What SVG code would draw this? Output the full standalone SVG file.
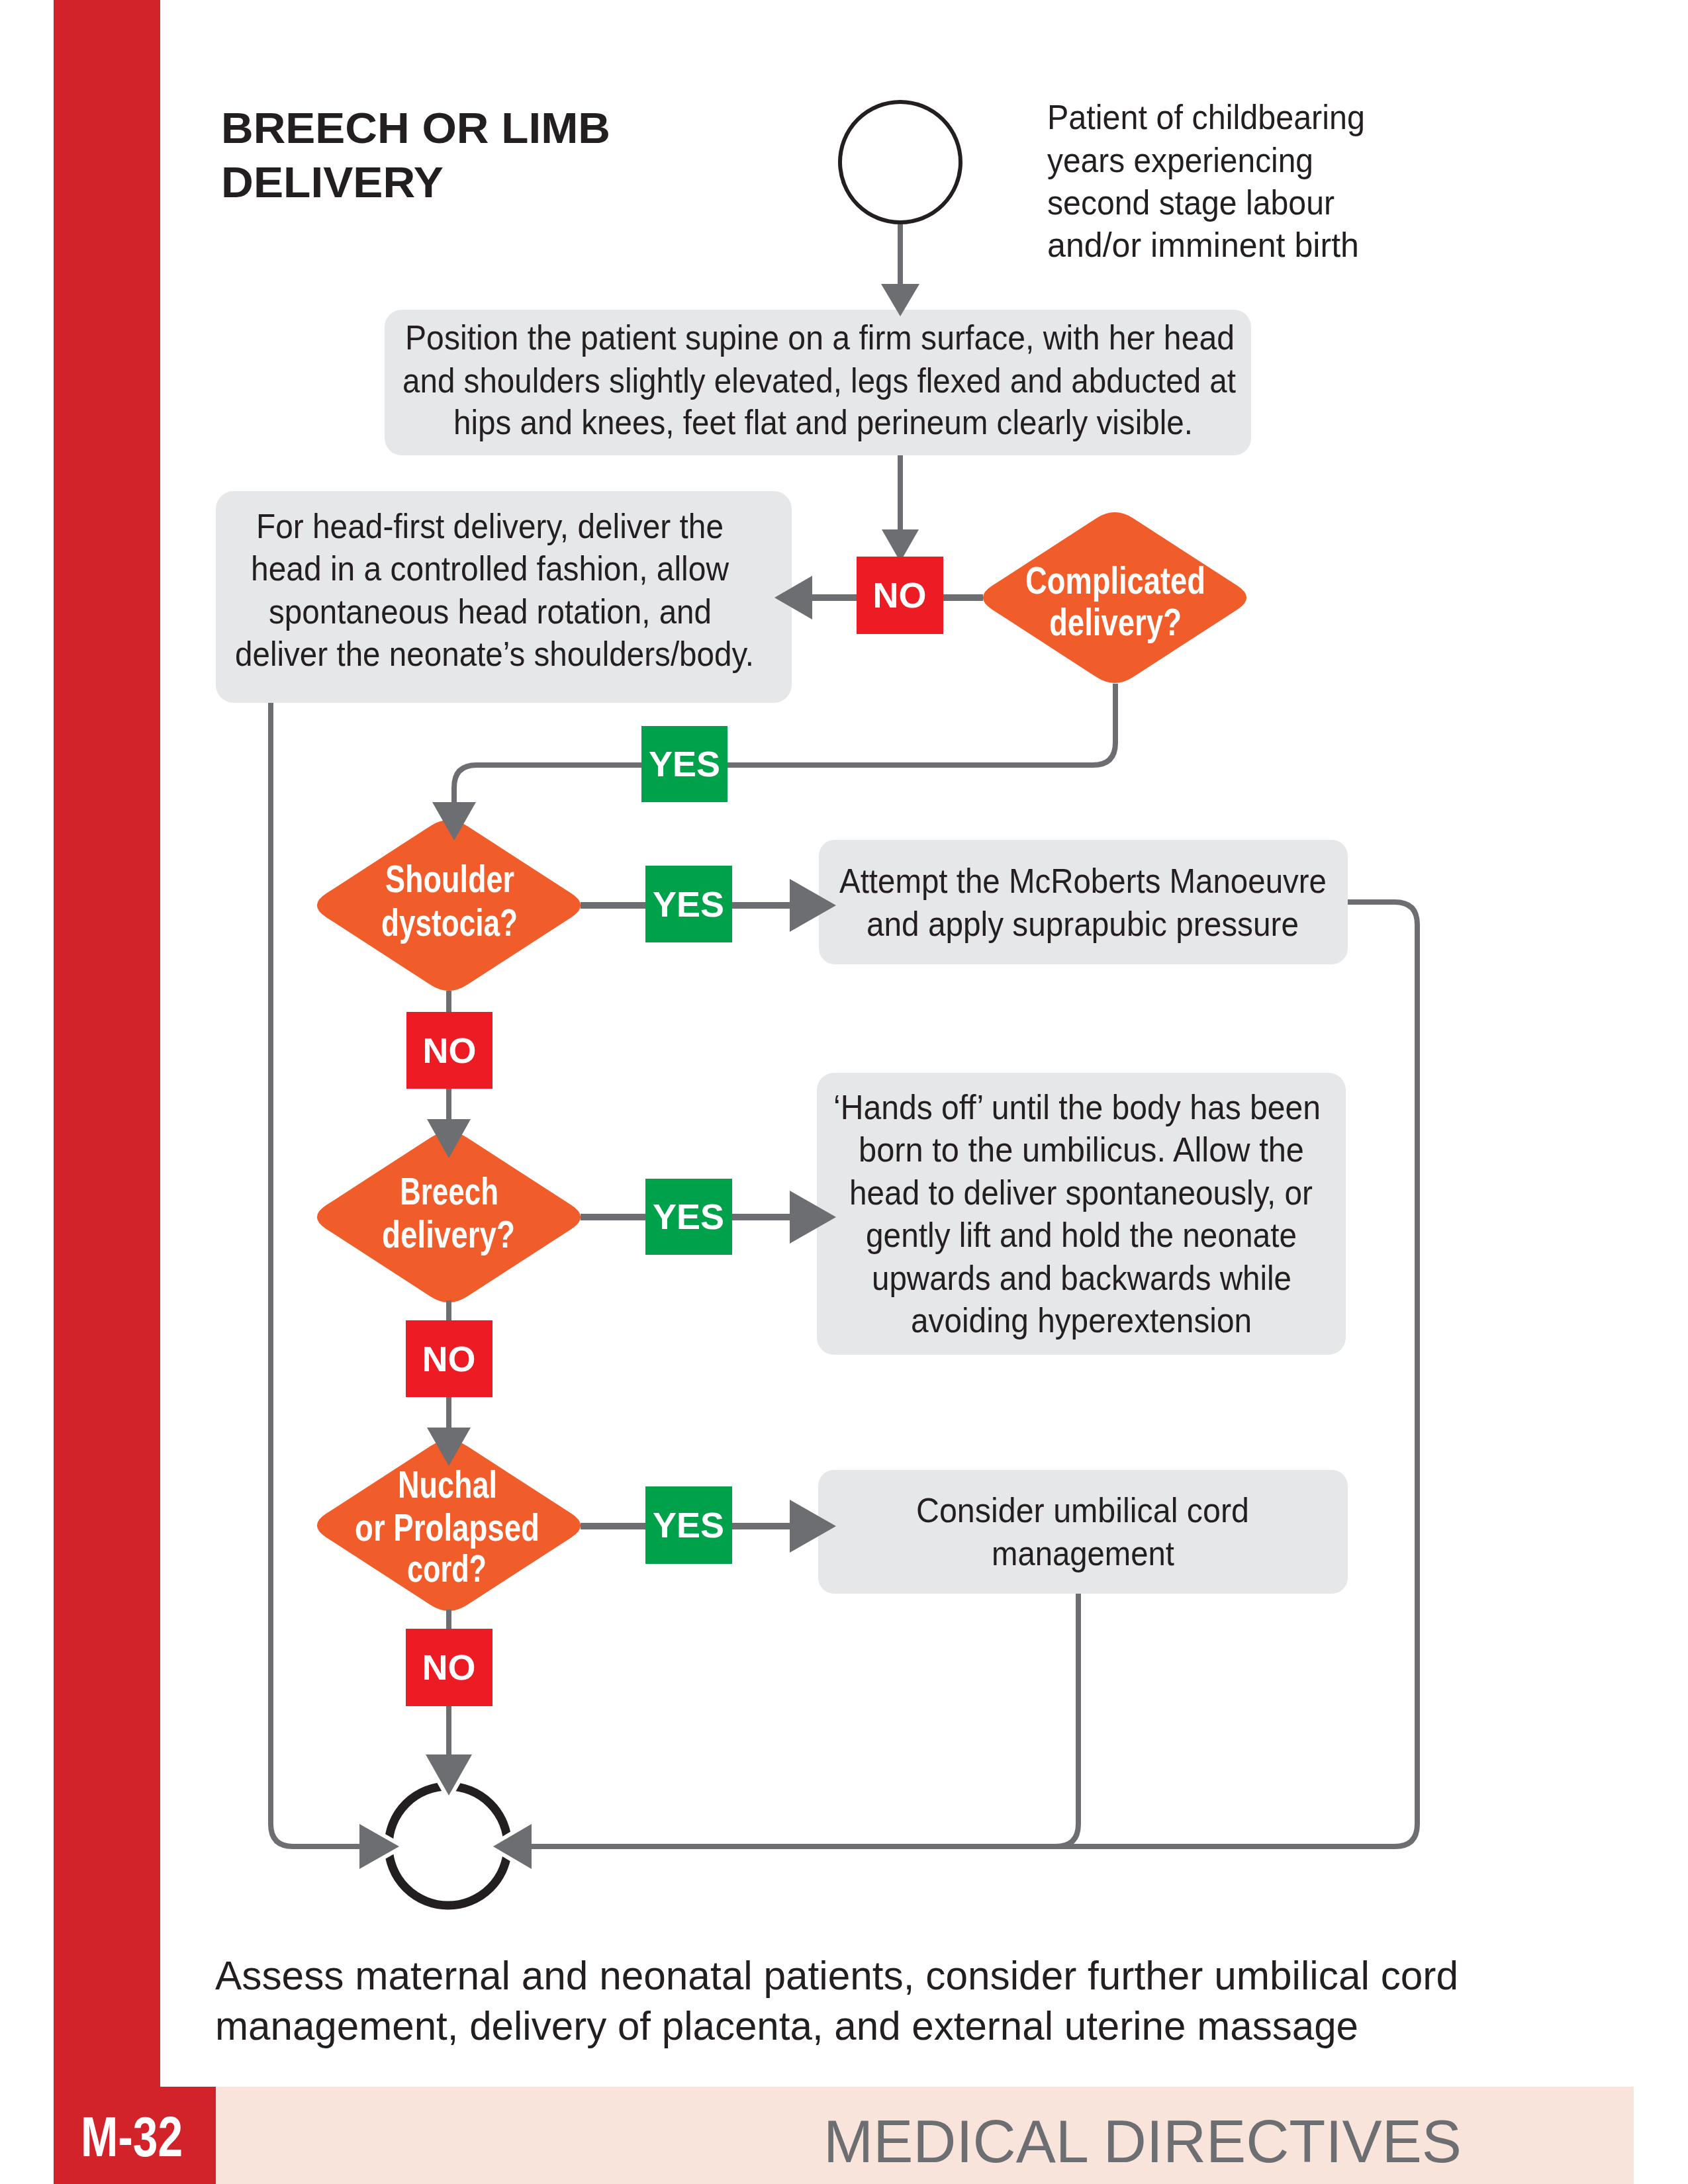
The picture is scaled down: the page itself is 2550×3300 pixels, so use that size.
<svg xmlns="http://www.w3.org/2000/svg" width="2550" height="3300" viewBox="0 0 2550 3300">
<style>
.box{fill:#E6E7E8}
.dia{fill:#F15D2A}
.t{font-family:"Liberation Sans Narrow","Liberation Sans",Arial,sans-serif;font-size:52px;fill:#231F20}
.dt{font-family:"Liberation Sans Narrow","Liberation Sans",Arial,sans-serif;font-size:57px;font-weight:bold;fill:#FFFFFF}
.ln{fill:none;stroke:#6D6E71;stroke-width:8}
.lnh{fill:none;stroke:#6D6E71;stroke-width:10}
.ah{fill:#6D6E71}
.ahw{fill:#6D6E71;stroke:#FFFFFF;stroke-width:12;stroke-linejoin:miter}
.no{fill:#ED1C24}
.yes{fill:#00A14B}
.lt{font-family:"Liberation Sans",Arial,sans-serif;font-size:54px;font-weight:bold;fill:#FFFFFF;text-anchor:middle}
</style>
<defs>
<path id="diamond" d="M 27.7,-120.1 L 185.3,-17.9 Q 213,0 185.3,17.9 L 27.7,120.1 Q 0,138 -27.7,120.1 L -185.3,17.9 Q -213,0 -185.3,-17.9 L -27.7,-120.1 Q 0,-138 27.7,-120.1 Z"/>
</defs>
<rect x="0" y="0" width="2550" height="3300" fill="#FFFFFF"/>
<g id="page">
<rect x="81" y="0" width="161" height="3300" fill="#D2232A"/>
<rect x="81" y="3153" width="245" height="147" fill="#D2232A"/>
<rect x="326" y="3153" width="2142" height="147" fill="#F8E4DB"/>
<text x="122" y="3258" font-family="Liberation Sans Narrow,Liberation Sans,Arial,sans-serif" font-size="86" font-weight="bold" fill="#FFFFFF" textLength="154" lengthAdjust="spacingAndGlyphs">M-32</text>
<text x="1244" y="3267" font-family="Liberation Sans Narrow,Liberation Sans,Arial,sans-serif" font-size="90" fill="#6D6E71" textLength="964" lengthAdjust="spacingAndGlyphs">MEDICAL DIRECTIVES</text>
<text x="334" y="216" font-family="Liberation Sans,Arial,sans-serif" font-size="64" font-weight="bold" fill="#231F20" textLength="588" lengthAdjust="spacingAndGlyphs">BREECH OR LIMB</text>
<text x="334" y="298" font-family="Liberation Sans,Arial,sans-serif" font-size="64" font-weight="bold" fill="#231F20" textLength="336" lengthAdjust="spacingAndGlyphs">DELIVERY</text>
</g>
<g id="start">
<circle cx="1360" cy="245" r="91" fill="#FFFFFF" stroke="#231F20" stroke-width="6"/>
<text class="t" x="1582" y="195" textLength="480" lengthAdjust="spacingAndGlyphs">Patient of childbearing</text>
<text class="t" x="1582" y="260" textLength="402" lengthAdjust="spacingAndGlyphs">years experiencing</text>
<text class="t" x="1582" y="324" textLength="434" lengthAdjust="spacingAndGlyphs">second stage labour</text>
<text class="t" x="1582" y="388" textLength="471" lengthAdjust="spacingAndGlyphs">and/or imminent birth</text>
</g>
<g id="position">
<rect class="box" x="581" y="468" width="1309" height="220" rx="26"/>
<text class="t" x="612" y="528" textLength="1253" lengthAdjust="spacingAndGlyphs">Position the patient supine on a firm surface, with her head</text>
<text class="t" x="608" y="593" textLength="1259" lengthAdjust="spacingAndGlyphs">and shoulders slightly elevated, legs flexed and abducted at</text>
<text class="t" x="685" y="656" textLength="1117" lengthAdjust="spacingAndGlyphs">hips and knees, feet flat and perineum clearly visible.</text>
</g>
<g id="headfirst">
<rect class="box" x="326" y="742" width="870" height="320" rx="27"/>
<text class="t" x="387" y="813" textLength="706" lengthAdjust="spacingAndGlyphs">For head-first delivery, deliver the</text>
<text class="t" x="379" y="877" textLength="722" lengthAdjust="spacingAndGlyphs">head in a controlled fashion, allow</text>
<text class="t" x="406" y="942" textLength="669" lengthAdjust="spacingAndGlyphs">spontaneous head rotation, and</text>
<text class="t" x="355" y="1006" textLength="784" lengthAdjust="spacingAndGlyphs">deliver the neonate’s shoulders/body.</text>
</g>
<g id="complicated">
<use href="#diamond" class="dia" transform="translate(1684,903)"/>
<text class="dt" x="1549" y="897" textLength="272" lengthAdjust="spacingAndGlyphs">Complicated</text>
<text class="dt" x="1585" y="960" textLength="200" lengthAdjust="spacingAndGlyphs">delivery?</text>
</g>
<g id="shoulder">
<use href="#diamond" class="dia" transform="translate(678,1368)"/>
<text class="dt" x="582" y="1348" textLength="195" lengthAdjust="spacingAndGlyphs">Shoulder</text>
<text class="dt" x="576" y="1414" textLength="206" lengthAdjust="spacingAndGlyphs">dystocia?</text>
</g>
<g id="mcroberts">
<rect class="box" x="1237" y="1269" width="799" height="188" rx="24"/>
<text class="t" x="1268" y="1349" textLength="736" lengthAdjust="spacingAndGlyphs">Attempt the McRoberts Manoeuvre</text>
<text class="t" x="1309" y="1414" textLength="653" lengthAdjust="spacingAndGlyphs">and apply suprapubic pressure</text>
</g>
<g id="breech">
<use href="#diamond" class="dia" transform="translate(678,1839)"/>
<text class="dt" x="604" y="1820" textLength="149" lengthAdjust="spacingAndGlyphs">Breech</text>
<text class="dt" x="577" y="1885" textLength="201" lengthAdjust="spacingAndGlyphs">delivery?</text>
</g>
<g id="handsoff">
<rect class="box" x="1234" y="1621" width="799" height="426" rx="26"/>
<text class="t" x="1259" y="1691" textLength="736" lengthAdjust="spacingAndGlyphs">‘Hands off’ until the body has been</text>
<text class="t" x="1297" y="1755" textLength="673" lengthAdjust="spacingAndGlyphs">born to the umbilicus. Allow the</text>
<text class="t" x="1283" y="1820" textLength="700" lengthAdjust="spacingAndGlyphs">head to deliver spontaneously, or</text>
<text class="t" x="1308" y="1884" textLength="651" lengthAdjust="spacingAndGlyphs">gently lift and hold the neonate</text>
<text class="t" x="1317" y="1949" textLength="634" lengthAdjust="spacingAndGlyphs">upwards and backwards while</text>
<text class="t" x="1376" y="2013" textLength="515" lengthAdjust="spacingAndGlyphs">avoiding hyperextension</text>
</g>
<g id="nuchal">
<use href="#diamond" class="dia" transform="translate(678,2305)"/>
<text class="dt" x="601" y="2263" textLength="150" lengthAdjust="spacingAndGlyphs">Nuchal</text>
<text class="dt" x="536" y="2328" textLength="279" lengthAdjust="spacingAndGlyphs">or Prolapsed</text>
<text class="dt" x="615" y="2390" textLength="120" lengthAdjust="spacingAndGlyphs">cord?</text>
</g>
<g id="umbilical">
<rect class="box" x="1236" y="2221" width="800" height="187" rx="24"/>
<text class="t" x="1384" y="2300" textLength="503" lengthAdjust="spacingAndGlyphs">Consider umbilical cord</text>
<text class="t" x="1498" y="2365" textLength="276" lengthAdjust="spacingAndGlyphs">management</text>
</g>
<g id="end">
<circle cx="677" cy="2789" r="90" fill="none" stroke="#231F20" stroke-width="13"/>
<polygon class="ahw" points="643,2651 713,2651 678,2713"/>
<polygon class="ahw" points="543,2756 543,2824 603,2790"/>
<polygon class="ahw" points="803,2756 803,2824 745,2790"/>
</g>
<g id="connectors">
<path class="ln" d="M 1360 339 V 432"/>
<polygon class="ah" points="1331,429 1389,429 1360,478"/>
<path class="ln" d="M 1360 688 V 803"/>
<polygon class="ah" points="1332,800 1388,800 1360,849"/>
<path class="lnh" d="M 1485 903 H 1224"/>
<polygon class="ah" points="1227,870 1227,936 1170,903"/>
<path class="ln" d="M 1685 1033 V 1122 Q 1685 1156 1651 1156 H 720 Q 686 1156 686 1190 V 1215"/>
<polygon class="ah" points="653,1212 719,1212 686,1270"/>
<path class="lnh" d="M 877 1368 H 1196"/>
<polygon class="ah" points="1193,1328 1193,1408 1263,1368"/>
<path class="ln" d="M 678 1497 V 1694"/>
<polygon class="ah" points="645,1691 711,1691 678,1750"/>
<path class="lnh" d="M 877 1839 H 1196"/>
<polygon class="ah" points="1193,1799 1193,1879 1263,1839"/>
<path class="ln" d="M 678 1965 V 2160"/>
<polygon class="ah" points="645,2157 711,2157 678,2215"/>
<path class="lnh" d="M 877 2306 H 1196"/>
<polygon class="ah" points="1193,2266 1193,2346 1263,2306"/>
<path class="ln" d="M 678 2432 V 2654"/>
<path class="ln" d="M 409 1062 V 2756 Q 409 2790 443 2790 H 546"/>
<path class="ln" d="M 2036 1363 H 2107 Q 2141 1363 2141 1397 V 2756 Q 2141 2790 2107 2790 H 800"/>
<path class="ln" d="M 1629 2408 V 2756 Q 1629 2790 1595 2790"/>
<polygon class="ah" points="643,2651 713,2651 678,2713"/>
<polygon class="ah" points="543,2756 543,2824 603,2790"/>
<polygon class="ah" points="803,2756 803,2824 745,2790"/>
</g>
<g id="labels">
<rect class="no" x="1294" y="841" width="131" height="117"/>
<text class="lt" x="1359" y="918">NO</text>
<rect class="yes" x="969" y="1097" width="130" height="115"/>
<text class="lt" x="1034" y="1173">YES</text>
<rect class="yes" x="975" y="1308" width="131" height="116"/>
<text class="lt" x="1040" y="1385">YES</text>
<rect class="no" x="614" y="1529" width="130" height="116"/>
<text class="lt" x="679" y="1606">NO</text>
<rect class="yes" x="975" y="1781" width="131" height="115"/>
<text class="lt" x="1040" y="1857">YES</text>
<rect class="no" x="613" y="1995" width="131" height="116"/>
<text class="lt" x="678" y="2072">NO</text>
<rect class="yes" x="975" y="2246" width="131" height="117"/>
<text class="lt" x="1040" y="2323">YES</text>
<rect class="no" x="613" y="2461" width="131" height="117"/>
<text class="lt" x="678" y="2538">NO</text>
</g>
<g id="final">
<text x="325" y="3006" font-family="Liberation Sans Narrow,Liberation Sans,Arial,sans-serif" font-size="61" fill="#231F20" textLength="1878" lengthAdjust="spacingAndGlyphs">Assess maternal and neonatal patients, consider further umbilical cord</text>
<text x="325" y="3082" font-family="Liberation Sans Narrow,Liberation Sans,Arial,sans-serif" font-size="61" fill="#231F20" textLength="1727" lengthAdjust="spacingAndGlyphs">management, delivery of placenta, and external uterine massage</text>
</g>
</svg>
